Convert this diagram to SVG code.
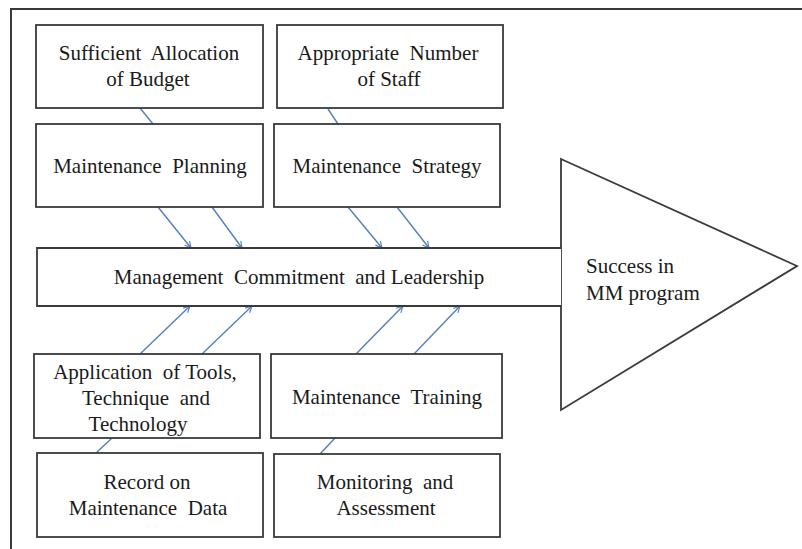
<svg xmlns="http://www.w3.org/2000/svg" width="802" height="549" viewBox="0 0 802 549" xml:space="preserve">
<style>
.box{fill:#fff;stroke:#3a3a3a;stroke-width:1.8}
.t{font-family:"Liberation Serif","Times New Roman",serif;font-size:21px;fill:#1a1a1a;text-anchor:middle;white-space:pre}
.c{stroke:#4f81bd;stroke-width:1.4;fill:none}
.a{marker-end:url(#arr)}
</style>
<defs>
<marker id="arr" viewBox="0 0 10 10" refX="9" refY="5" markerWidth="8" markerHeight="8" markerUnits="userSpaceOnUse" orient="auto">
<path d="M1,1 L9,5 L1,9" fill="none" stroke="#4f81bd" stroke-width="1.4"/>
</marker>
</defs>
<rect width="802" height="549" fill="#fff"/>
<g id="frame"><path d="M11,549 V9 H802" fill="none" stroke="#3a3a3a" stroke-width="2"/></g>

<g id="connectors">
<line class="c" x1="140" y1="108" x2="153" y2="124"/>
<line class="c" x1="328" y1="109" x2="338" y2="124"/>
<line class="c a" x1="158" y1="207" x2="191" y2="248"/>
<line class="c a" x1="212" y1="207" x2="242" y2="248"/>
<line class="c a" x1="348" y1="207" x2="382" y2="248"/>
<line class="c a" x1="397" y1="207" x2="429" y2="248"/>
<line class="c a" x1="140" y1="354" x2="190" y2="306"/>
<line class="c a" x1="202" y1="354" x2="252" y2="306"/>
<line class="c a" x1="356" y1="354" x2="403" y2="306"/>
<line class="c a" x1="414" y1="354" x2="460" y2="306"/>
<line class="c" x1="112" y1="438" x2="96" y2="453"/>
<line class="c" x1="335" y1="438" x2="320" y2="454"/>
</g>

<g id="budget"><rect class="box" x="36" y="25" width="227" height="83"/>
<text class="t" x="149" y="60">Sufficient  Allocation</text><text class="t" x="148" y="86">of Budget</text></g>
<g id="staff"><rect class="box" x="277" y="25" width="226" height="83"/>
<text class="t" x="388" y="60">Appropriate  Number</text><text class="t" x="389" y="86">of Staff</text></g>
<g id="planning"><rect class="box" x="36" y="124" width="227" height="83"/>
<text class="t" x="150" y="173">Maintenance  Planning</text></g>
<g id="strategy"><rect class="box" x="274" y="124" width="226" height="83"/>
<text class="t" x="387" y="173">Maintenance  Strategy</text></g>

<g id="success"><path d="M561,159 L797,266 L561,410 Z" fill="#fff" stroke="#3a3a3a" stroke-width="1.8"/>
<text class="t" x="586" y="273" style="text-anchor:start">Success in</text><text class="t" x="586" y="300" style="text-anchor:start">MM program</text></g>
<g id="management"><path d="M561,248 H37 V306 H561" fill="#fff" stroke="#3a3a3a" stroke-width="1.8"/>
<text class="t" x="299" y="284">Management  Commitment  and Leadership</text></g>

<g id="tools"><rect class="box" x="34" y="354" width="226" height="84"/>
<text class="t" x="145" y="379">Application  of Tools,</text><text class="t" x="146" y="405">Technique  and</text><text class="t" x="138" y="431">Technology</text></g>
<g id="training"><rect class="box" x="271" y="354" width="231" height="84"/>
<text class="t" x="387" y="404">Maintenance  Training</text></g>
<g id="record"><rect class="box" x="37" y="453" width="226" height="84"/>
<text class="t" x="147" y="489">Record on</text><text class="t" x="148" y="515">Maintenance  Data</text></g>
<g id="monitoring"><rect class="box" x="274" y="454" width="226" height="83"/>
<text class="t" x="385" y="489">Monitoring  and</text><text class="t" x="386" y="515">Assessment</text></g>
</svg>
